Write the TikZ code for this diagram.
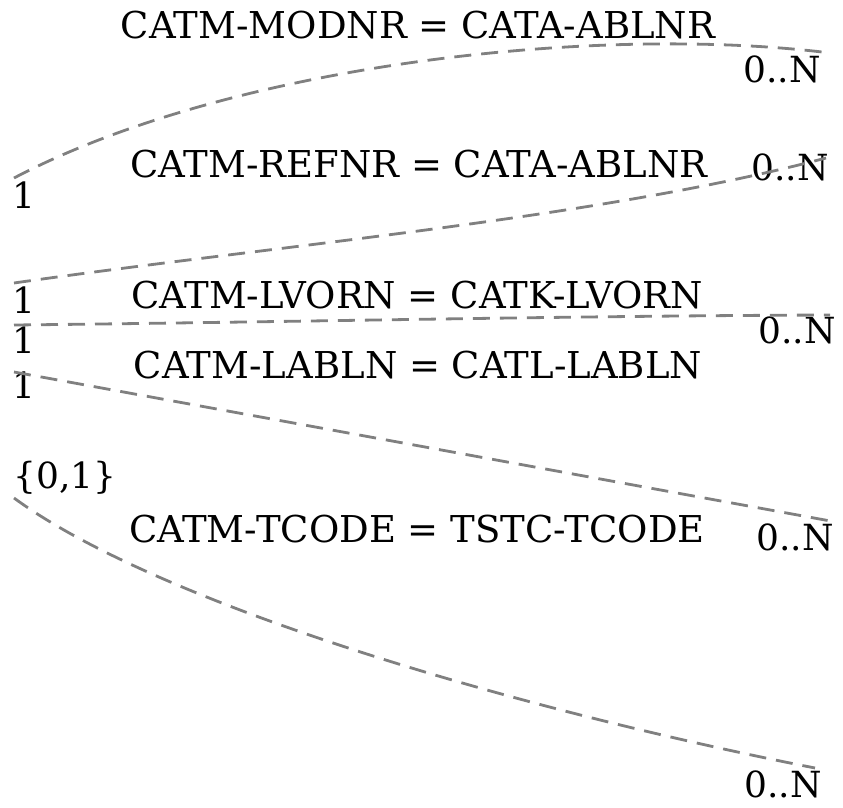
\documentclass[tikz,border=0pt]{standalone}
\usepackage{fontspec}
\setmainfont{DejaVu Serif}
\usetikzlibrary{positioning}

\begin{document}
\begin{tikzpicture}[x=1pt, y=-1pt, font=\fontsize{36}{42}\selectfont]
	\tikzstyle{rel}=[draw=gray, line width=2.8pt, dash pattern=on 17pt off 10pt]
	\tikzstyle{cond}=[inner sep=0pt, anchor=base, font=\fontsize{37}{42}\selectfont]
	\tikzstyle{card}=[inner sep=0pt, anchor=base]
	\useasboundingbox (0,0) rectangle (843,808);
	% % Join conditions
	\node[cond](modnr) at (418,39) {CATM-MODNR = CATA-ABLNR};
	\node[cond](refnr) at (419,177) {CATM-REFNR = CATA-ABLNR};
	\node[cond](lvorn) at (417,308) {CATM-LVORN = CATK-LVORN};
	\node[cond](labln) at (418,378) {CATM-LABLN = CATL-LABLN};
	\node[cond](tcode) at (417,542) {CATM-TCODE = TSTC-TCODE};
	% % Cardinalities
	% left side
	\node[card](modnrL) at (24,208) {1};
	\node[card](refnrL) at (24,313) {1};
	\node[card](lvornL) at (24,353) {1};
	\node[card](lablnL) at (24,398) {1};
	\node[card](tcodeL) at (65,488) {\{0,1\}};
	% right side
	\node[card](modnrR) at (782,82) {0..N};
	\node[card](refnrR) at (790,180) {0..N};
	\node[card](lvornR) at (797,343) {0..N};
	\node[card](lablnR) at (795,550) {0..N};
	\node[card](tcodeR) at (783,797) {0..N};
	% % Connector ends
	\coordinate (a1) at (14,178);  \coordinate (b1) at (822,52);
	\coordinate (a2) at (14,283);  \coordinate (b2) at (826,158);
	\coordinate (a3) at (14,325);  \coordinate (b3) at (830,315);
	\coordinate (a4) at (14,372);  \coordinate (b4) at (836,522);
	\coordinate (a5) at (14,498);  \coordinate (b5) at (815,768);
	% % Connectors
	\draw[rel] (a1) .. controls (230,65) and (590,25) .. (b1);
	\draw[rel] (a2) .. controls (280,245) and (600,218) .. (b2);
	\draw[rel] (a3) .. controls (300,322) and (550,316) .. (b3);
	\draw[rel] (a4) -- (b4);
	\draw[rel] (a5) .. controls (160,605) and (520,710) .. (b5);
\end{tikzpicture}
\end{document}
